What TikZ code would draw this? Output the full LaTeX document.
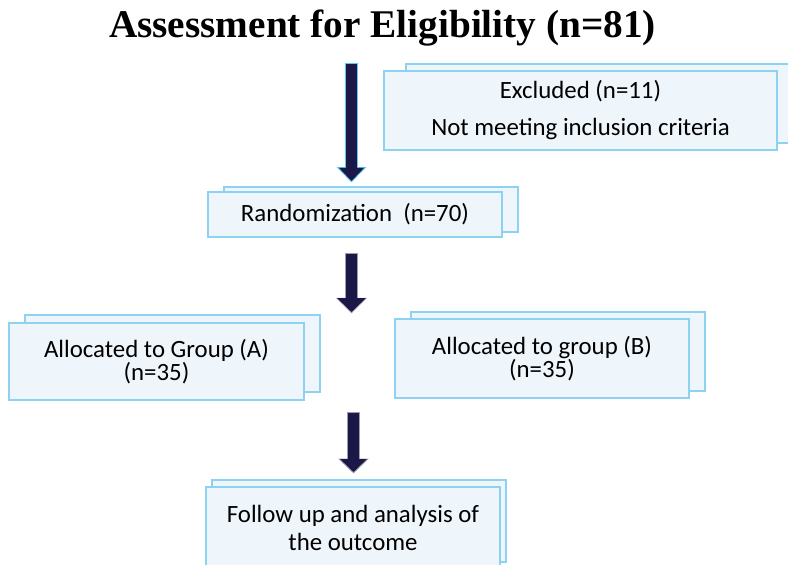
\documentclass[tikz,border=0pt]{standalone}
\usepackage{fontspec}
\setmainfont{Carlito}
\newfontfamily\titlefont{Liberation Serif}
\usetikzlibrary{arrows.meta}
\definecolor{cardfill}{HTML}{EEF5FB}
\definecolor{cardline}{HTML}{8DD3F1}
\definecolor{navyarrow}{HTML}{1B1848}
\definecolor{arrowedge}{HTML}{5CC6F0}
\definecolor{arrowgray}{HTML}{9A9CB0}

\begin{document}
\begin{tikzpicture}[x=0.03cm,y=-0.03cm,
    card/.style={draw=cardline,fill=cardfill,line width=0.9pt,inner sep=0pt,align=center},
    cardback/.style={draw=cardline,fill=cardfill,line width=0.9pt},
    heading/.style={font=\titlefont\bfseries\fontsize{33.5}{40}\selectfont,anchor=base},
    barrow/.style 2 args={draw=navyarrow,line width=0.33cm,-{Triangle[width=#1,length=#2]}},
    bedge/.style 2 args={line width=0.39cm,-{Triangle[width=#1,length=#2]}}]
  \useasboundingbox (0,0) rectangle (788,565);
  % --- title ---
  \node[heading] (title) at (382.5,38) {Assessment for Eligibility (n=81)};
  % --- boxes: back sheet first, then the box with its text ---
  \foreach \nm/\cx/\cy/\w/\h/\dx/\dy/\ls/\txt in {%
      excl/580.5/110.5/393/79/22/7/31.5/{Excluded (n=11)\\Not meeting inclusion criteria},
      rand/355/214.5/294/45/16/5/24/{Randomization\ \ (n=70)},
      grpA/156.5/361.5/295/77/16/8/19.5/{Allocated to Group (A)\\(n=35)},
      grpB/542/358.5/294/79/16/7/19.5/{Allocated to group (B)\\(n=35)},
      foll/353/528/294/82/6/7/24/{Follow up and analysis of\\the outcome}}{
    \draw[cardback] (\cx-\w/2+\dx,\cy-\h/2-\dy) rectangle (\cx+\w/2+\dx,\cy+\h/2-\dy);
    \node[card,font=\fontsize{21.2}{\ls}\selectfont,minimum width=\w*0.03cm,
      minimum height=\h*0.03cm] (\nm) at (\cx,\cy) {\txt};
  }
  % --- arrows ---
  \coordinate (a1t) at (351.5,64);  \coordinate (a1h) at (351.5,181);
  \coordinate (a2t) at (351.5,254); \coordinate (a2h) at (351.5,312);
  \coordinate (a3t) at (353.5,413); \coordinate (a3h) at (353.5,472);
  \draw[arrowedge,bedge={0.86cm}{0.46cm}] ([yshift=0.03cm]a1t) -- ([yshift=-0.045cm]a1h);
  \draw[barrow={0.72cm}{0.39cm}] (a1t) -- (a1h);
  \draw[arrowgray,bedge={0.9cm}{0.47cm}] ([yshift=0.03cm]a2t) -- ([yshift=-0.045cm]a2h);
  \draw[barrow={0.84cm}{0.42cm}] (a2t) -- (a2h);
  \draw[arrowgray,bedge={0.9cm}{0.45cm}] ([yshift=0.03cm]a3t) -- ([yshift=-0.045cm]a3h);
  \draw[barrow={0.78cm}{0.39cm}] (a3t) -- (a3h);
\end{tikzpicture}
\end{document}
